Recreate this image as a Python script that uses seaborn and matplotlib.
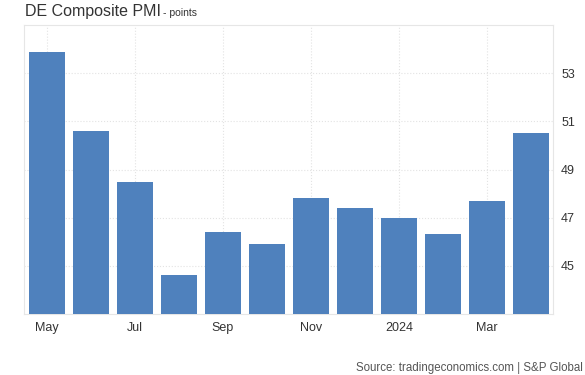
import pandas as pd
import numpy as np
import seaborn as sns
import matplotlib.pyplot as plt

# Monthly composite PMI, May 2023 - Apr 2024
months = ['May', 'Jun', 'Jul', 'Aug', 'Sep', 'Oct', 'Nov', 'Dec', '2024', 'Feb', 'Mar', 'Apr']
pmi = [53.9, 50.6, 48.5, 44.6, 46.4, 45.9, 47.8, 47.4, 47.0, 46.3, 47.7, 50.5]
shown_labels = ['May', 'Jul', 'Sep', 'Nov', '2024', 'Mar']
y_ticks = [45, 47, 49, 51, 53]

df = pd.DataFrame({'month': months, 'pmi': pmi})

sns.set_style('white')
plt.rcParams['font.family'] = ['Liberation Sans', 'DejaVu Sans']

fig = plt.figure(figsize=(5.85, 3.75), dpi=100)
ax = fig.add_axes([0.041, 0.163, 0.904, 0.77])

sns.barplot(data=df, x='month', y='pmi', color='#4f81bd', saturation=1,
            width=0.82, ax=ax, zorder=3, linewidth=0)

ax.set_ylim(43, 55)
ax.set_xlim(-0.52, 11.5)
ax.set_xlabel('')
ax.set_ylabel('')

# every other month labelled
ax.set_xticks([months.index(m) for m in shown_labels])
ax.set_xticklabels(shown_labels)
ax.set_yticks(y_ticks)
ax.yaxis.tick_right()
ax.tick_params(axis='both', length=0, labelsize=9, colors='#333333')
ax.tick_params(axis='x', pad=6)
ax.tick_params(axis='y', pad=6)

ax.grid(True, color='#e3e3e3', linestyle=':', linewidth=0.8, zorder=0)
for s in ax.spines.values():
    s.set_color('#e6e6e6')
    s.set_linewidth(0.8)

fig.text(0.043, 0.99, 'DE Composite PMI', fontsize=11.5, color='#333333', va='top')
fig.text(0.278, 0.978, '- points', fontsize=7.5, color='#333333', va='top')
fig.text(0.997, 0.003, 'Source: tradingeconomics.com | S&P Global', fontsize=8.3,
         color='#555555', va='bottom', ha='right')

fig.savefig('out.png', dpi=100)
